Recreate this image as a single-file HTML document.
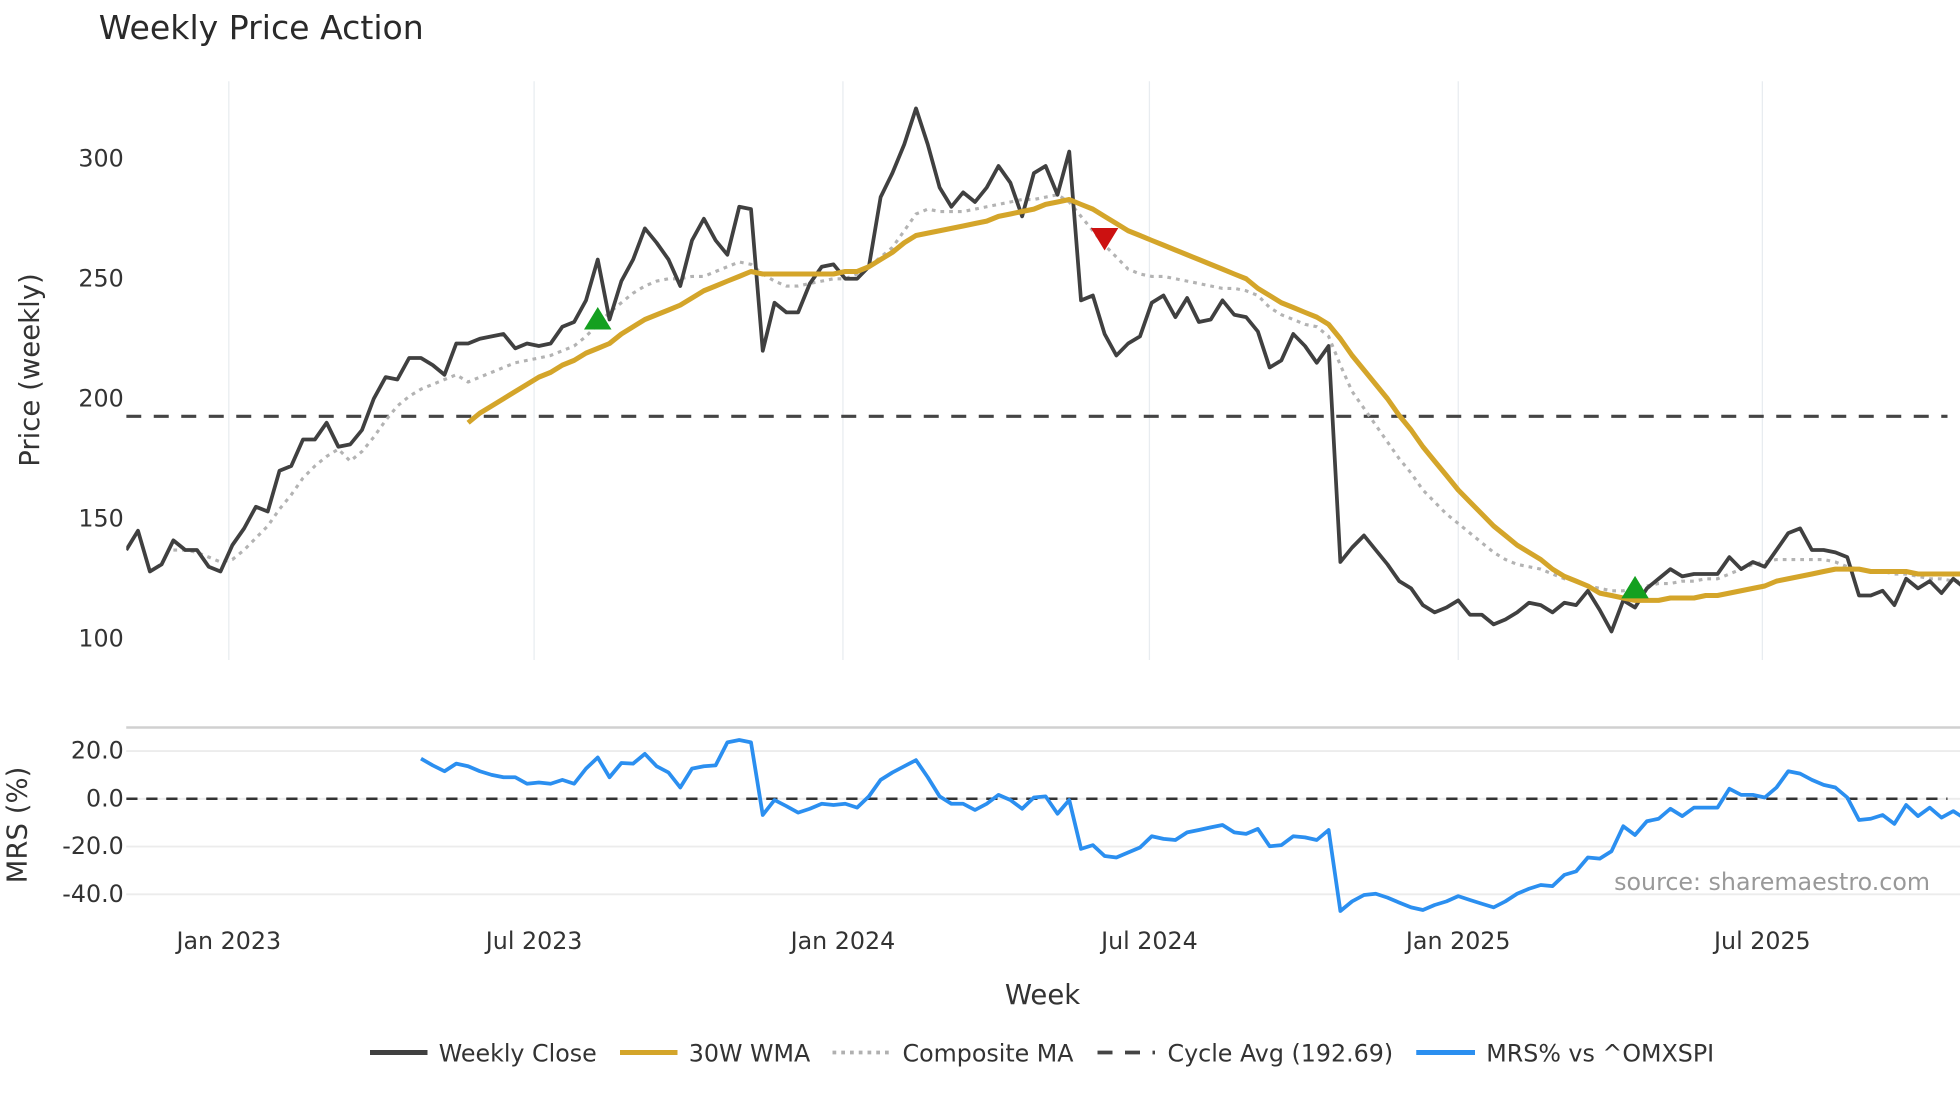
<!DOCTYPE html>
<html><head><meta charset="utf-8"><style>
html,body{margin:0;padding:0;background:#fff}
svg{display:block;font-family:"DejaVu Sans","Liberation Sans",sans-serif}
</style></head><body>
<svg id="chart" width="1960" height="1102" viewBox="0 0 1568 881.6" xmlns="http://www.w3.org/2000/svg">
<defs>
<clipPath id="cp"><rect x="101" y="60" width="1467" height="480"/></clipPath>
<clipPath id="cm"><rect x="101" y="585" width="1467" height="150"/></clipPath>
</defs>
<text x="79" y="31" font-size="26.5" fill="#2a2a2a">Weekly Price Action</text>
<g id="grid"></g>
<g id="priceAxis"></g>
<g id="mrsAxis"></g>
<line x1="101" y1="582" x2="1568" y2="582" stroke="#d0d0d0" stroke-width="2"/>
<g id="series"></g>
<text transform="translate(31,296) rotate(-90)" text-anchor="middle" font-size="22" fill="#333">Price (weekly)</text>
<text transform="translate(21,660) rotate(-90)" text-anchor="middle" font-size="22" fill="#333">MRS (%)</text>
<text x="834" y="803" text-anchor="middle" font-size="22" fill="#333">Week</text>
<text x="1544" y="712" text-anchor="end" font-size="19" fill="#999">source: sharemaestro.com</text>
<g id="legend" font-size="19" fill="#333">
<g><line x1="296" y1="842" x2="342" y2="842" stroke="#404040" stroke-width="4"/><text x="351" y="849">Weekly Close</text></g>
<g><line x1="496" y1="842" x2="542" y2="842" stroke="#d4a52a" stroke-width="4"/><text x="551" y="849">30W WMA</text></g>
<g><line x1="666" y1="842" x2="712" y2="842" stroke="#b0b0b0" stroke-width="3" stroke-dasharray="3,4"/><text x="722" y="849">Composite MA</text></g>
<g><line x1="878" y1="842" x2="924" y2="842" stroke="#444" stroke-width="3" stroke-dasharray="12,10"/><text x="934" y="849">Cycle Avg (192.69)</text></g>
<g><line x1="1133" y1="842" x2="1180" y2="842" stroke="#2b8ff0" stroke-width="4"/><text x="1189" y="849">MRS% vs ^OMXSPI</text></g>
</g>
</svg>
<script>
const closeVals=[137,145,128,131,141,137,137,130,128,139,146,155,153,170,172,183,183,190,180,181,187,200,209,208,217,217,214,210,223,223,225,226,227,221,223,222,223,230,232,241,258,233,249,258,271,265,258,247,266,275,266,260,280,279,220,240,236,236,248,255,256,250,250,255,284,294,306,321,306,288,280,286,282,288,297,290,276,294,297,285,303,241,243,227,218,223,226,240,243,234,242,232,233,241,235,234,228,213,216,227,222,215,222,132,138,143,137,131,124,121,114,111,113,116,110,110,106,108,111,115,114,111,115,114,120,112,103,116,113,121,125,129,126,127,127,127,134,129,132,130,137,144,146,137,137,136,134,118,118,120,114,125,121,124,119,125,121];
const wmaStart=29;
const wmaVals=[190,194,197,200,203,206,209,211,214,216,219,221,223,227,230,233,235,237,239,242,245,247,249,251,253,252,252,252,252,252,252,252,253,253,255,258,261,265,268,269,270,271,272,273,274,276,277,278,279,281,282,283,281,279,276,273,270,268,266,264,262,260,258,256,254,252,250,246,243,240,238,236,234,231,225,218,212,206,200,193,187,180,174,168,162,157,152,147,143,139,136,133,129,126,124,122,119,118,117,116,116,116,117,117,117,118,118,119,120,121,122,124,125,126,127,128,129,129,129,128,128,128,128,127,127,127,127,127];
const compStart=4;
const compVals=[137,137,136,134,132,133,137,142,147,154,160,167,172,176,179,174,178,184,191,197,201,204,206,208,210,207,209,211,213,215,216,217,218,220,222,226,231,236,240,244,247,249,250,250,251,251,253,255,257,256,252,249,247,247,248,249,250,250,252,255,259,263,270,277,279,278,278,278,279,280,281,282,283,283,284,285,282,276,270,264,259,254,252,251,251,250,249,248,247,246,246,245,243,238,235,233,231,230,226,214,203,196,189,182,175,169,162,157,152,148,144,140,136,133,131,130,129,127,125,124,122,121,120,120,121,122,123,123,124,124,125,125,127,129,131,132,133,133,133,133,133,132,130,129,128,128,127,127,126,125,125,124,124];
const mrsStart=25;
const mrsVals=[16.8,14,11.5,14.7,13.6,11.5,10,9,9,6.3,6.8,6.3,7.9,6.3,12.6,17.3,9,15,14.7,18.8,13.6,11,4.7,12.6,13.6,14,23.6,24.6,23.6,-6.8,-0.5,-3.1,-5.8,-4.2,-2.1,-2.6,-2.1,-3.7,1,7.9,11,13.6,16.2,9,1,-2.1,-2.1,-4.7,-2.1,1.6,-0.5,-4.2,0.5,1,-6.3,-0.5,-21,-19.4,-24,-24.6,-22.5,-20.4,-15.7,-16.8,-17.3,-14.1,-13.1,-12,-11,-14.1,-14.7,-12.6,-19.9,-19.4,-15.7,-16.2,-17.3,-13.1,-47,-43,-40.3,-39.8,-41.4,-43.5,-45.5,-46.6,-44.5,-43,-40.8,-42.4,-44,-45.5,-43,-39.8,-37.7,-36.1,-36.6,-31.9,-30.4,-24.6,-25.1,-22,-11.5,-15.2,-9.4,-8.4,-4.2,-7.3,-3.7,-3.7,-3.7,4.2,1.6,1.6,0.5,4.7,11.5,10.5,7.9,5.8,4.7,0.5,-8.9,-8.4,-6.8,-10.5,-2.6,-7.3,-3.7,-7.9,-5.2,-8.4];
const cycleAvg=192.69;
const buyIdx=[40,128];
const buyVals=[233,121];
const sellIdx=[83];
const sellVals=[267];
const xTickLabels=["Jan 2023","Jul 2023","Jan 2024","Jul 2024","Jan 2025","Jul 2025"];
const xTickWeeks=[8.7,34.6,60.8,86.8,113.0,138.8];
const priceTicks=[100,150,200,250,300];
const mrsTicks=[20,0,-20,-40];

const NS="http://www.w3.org/2000/svg";
const X=i=>101+i*9.43;
const Y=v=>127+(300-v)*1.92;
const M=v=>639-v*1.91;
function mk(tag,attrs,parent){const e=document.createElementNS(NS,tag);for(const k in attrs)e.setAttribute(k,attrs[k]);parent.appendChild(e);return e;}
const grid=document.getElementById('grid'),pa=document.getElementById('priceAxis'),ma=document.getElementById('mrsAxis'),ser=document.getElementById('series');
xTickLabels.forEach((lab,k)=>{
  const x=X(xTickWeeks[k]);
  const g=mk('line',{x1:x,y1:65,x2:x,y2:528,stroke:'#e8ecf0','stroke-width':1},grid);
  
  
  const t=mk('text',{x:x,y:759,'text-anchor':'middle','font-size':19,fill:'#333'},grid);
  t.textContent=lab;
  
  
});
priceTicks.forEach(v=>{
  const t=mk('text',{x:99,y:Y(v)+6,'text-anchor':'end','font-size':19,fill:'#333'},pa);
  t.textContent=v;
  
  
});
mrsTicks.forEach(v=>{
  const l=mk('line',{x1:101,y1:M(v),x2:1568,y2:M(v),stroke:'#ececec','stroke-width':1.5},ma);
  
  
  const t=mk('text',{x:99,y:M(v)+6,'text-anchor':'end','font-size':19,fill:'#333'},ma);
  t.textContent=v.toFixed(1);
  
  
});
function path(vals,start,fy){return vals.map((v,i)=>(i?'L':'M')+X(start+i).toFixed(1)+','+fy(v).toFixed(1)).join(' ');}
const gp=mk('g',{'clip-path':'url(#cp)'},ser);
const cyc=mk('line',{x1:101,y1:Y(cycleAvg),x2:1558,y2:Y(cycleAvg),stroke:'#444','stroke-width':2.5,'stroke-dasharray':'12,10'},gp);


const pc=mk('path',{d:path(compVals,compStart,Y),fill:'none',stroke:'#b3b3b3','stroke-width':2.5,'stroke-dasharray':'3,4'},gp);


const pcl=mk('path',{d:path(closeVals,0,Y),fill:'none',stroke:'#404040','stroke-width':3,'stroke-linejoin':'round'},gp);


const pw=mk('path',{d:path(wmaVals,wmaStart,Y),fill:'none',stroke:'#d4a52a','stroke-width':4,'stroke-linejoin':'round'},gp);


buyIdx.forEach((ix,k)=>{
  const x=X(ix),y=Y(buyVals[k]);
  const t=mk('polygon',{points:`${x-11},${y+8} ${x+11},${y+8} ${x},${y-10}`,fill:'#14a020'},gp);
  
  
});
sellIdx.forEach((ix,k)=>{
  const x=X(ix),y=Y(sellVals[k]);
  const t=mk('polygon',{points:`${x-11},${y-8} ${x+11},${y-8} ${x},${y+10}`,fill:'#cc1111'},gp);
  
  
});
const gm=mk('g',{'clip-path':'url(#cm)'},ser);
const zl=mk('line',{x1:101,y1:M(0),x2:1558,y2:M(0),stroke:'#333','stroke-width':2,'stroke-dasharray':'9,7'},gm);


const pm=mk('path',{d:path(mrsVals,mrsStart,M),fill:'none',stroke:'#2b8ff0','stroke-width':3,'stroke-linejoin':'round'},gm);


</script>
</body></html>
